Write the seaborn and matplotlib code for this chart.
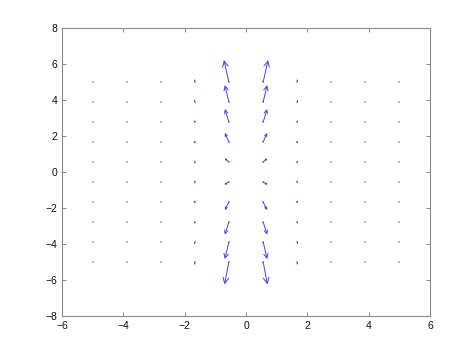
import numpy as np
import pandas as pd
import matplotlib
matplotlib.use("Agg")
import matplotlib.pyplot as plt
import seaborn as sns

# grid positions
x_grid = [-5.0, -3.89, -2.78, -1.67, -0.56, 0.56, 1.67, 2.78, 3.89, 5.0]
y_grid = [-5.0, -3.89, -2.78, -1.67, -0.56, 0.56, 1.67, 2.78, 3.89, 5.0]

# vector components for the columns with visible arrows (per row, bottom to top)
u_col_m056 = [-0.14, -0.13, -0.13, -0.13, -0.15, -0.14, -0.13, -0.13, -0.13, -0.16]
v_col_m056 = [-1.25, -0.95, -0.70, -0.45, -0.14, 0.20, 0.50, 0.72, 0.94, 1.22]
u_col_p056 = [0.14, 0.13, 0.13, 0.13, 0.15, 0.14, 0.13, 0.13, 0.13, 0.16]
v_col_p056 = [-1.25, -0.95, -0.70, -0.45, -0.14, 0.20, 0.50, 0.72, 0.94, 1.22]
u_col_m167 = [-0.01, -0.01, -0.01, 0.0, 0.0, 0.0, 0.0, -0.01, -0.01, -0.01]
v_col_m167 = [-0.16, -0.13, -0.10, -0.05, -0.02, 0.02, 0.05, 0.10, 0.13, 0.16]
u_col_p167 = [0.01, 0.01, 0.01, 0.0, 0.0, 0.0, 0.0, 0.01, 0.01, 0.01]
v_col_p167 = [-0.16, -0.13, -0.10, -0.05, -0.02, 0.02, 0.05, 0.10, 0.13, 0.16]

x_ticks = [-6, -4, -2, 0, 2, 4, 6]
y_ticks = [-8, -6, -4, -2, 0, 2, 4, 6, 8]

columns = {
    -0.56: (u_col_m056, v_col_m056),
    0.56: (u_col_p056, v_col_p056),
    -1.67: (u_col_m167, v_col_m167),
    1.67: (u_col_p167, v_col_p167),
}

rows = []
for xv in x_grid:
    if xv in columns:
        us, vs = columns[xv]
    else:
        us, vs = [0.0] * len(y_grid), [0.0] * len(y_grid)
    for yv, u, v in zip(y_grid, us, vs):
        rows.append({"x": xv, "y": yv, "u": u, "v": v})
df = pd.DataFrame(rows)

sns.set_style("white")
plt.rcParams["font.family"] = ["Liberation Sans", "DejaVu Sans"]

fig = plt.figure(figsize=(4.74, 3.55), dpi=100)
ax = fig.add_axes([0.131, 0.110, 0.776, 0.811])
ax.set_xlim(-6, 6)
ax.set_ylim(-8, 8)

arrow_col = (0.25, 0.25, 1.0)
# base points (tiny dots like zero-length arrows)
sns.scatterplot(data=df, x="x", y="y", ax=ax, s=1.2, marker="s",
                color=(0.72, 0.72, 0.85), linewidth=0, legend=False, zorder=2)

# pixel scale of data units (for arrowhead size proportional to length)
px_per_x = 0.776 * 474 / 12.0
px_per_y = 0.811 * 355 / 16.0

for _, r in df.iterrows():
    if abs(r.u) + abs(r.v) > 1e-9:
        length_px = np.hypot(r.u * px_per_x, r.v * px_per_y)
        ms = max(1.0, 0.45 * length_px)
        lw = 0.7 if length_px > 5 else 0.5
        ax.annotate("", xy=(r.x + r.u, r.y + r.v), xytext=(r.x, r.y),
                    xycoords="data", textcoords="data",
                    arrowprops=dict(arrowstyle="->,head_length=0.4,head_width=0.2",
                                    color=arrow_col, lw=lw,
                                    shrinkA=0, shrinkB=0, mutation_scale=ms),
                    zorder=3)

ax.set_xticks(x_ticks)
ax.set_yticks(y_ticks)
ax.set_xlabel("")
ax.set_ylabel("")
ax.tick_params(direction="in", length=3, width=0.6, colors="#777777",
               labelcolor="#111111", labelsize=7.5, top=True, right=True,
               bottom=True, left=True)
for sp in ax.spines.values():
    sp.set_visible(True)
    sp.set_color("#888888")
    sp.set_linewidth(0.8)

fig.savefig("out.png", dpi=100)
